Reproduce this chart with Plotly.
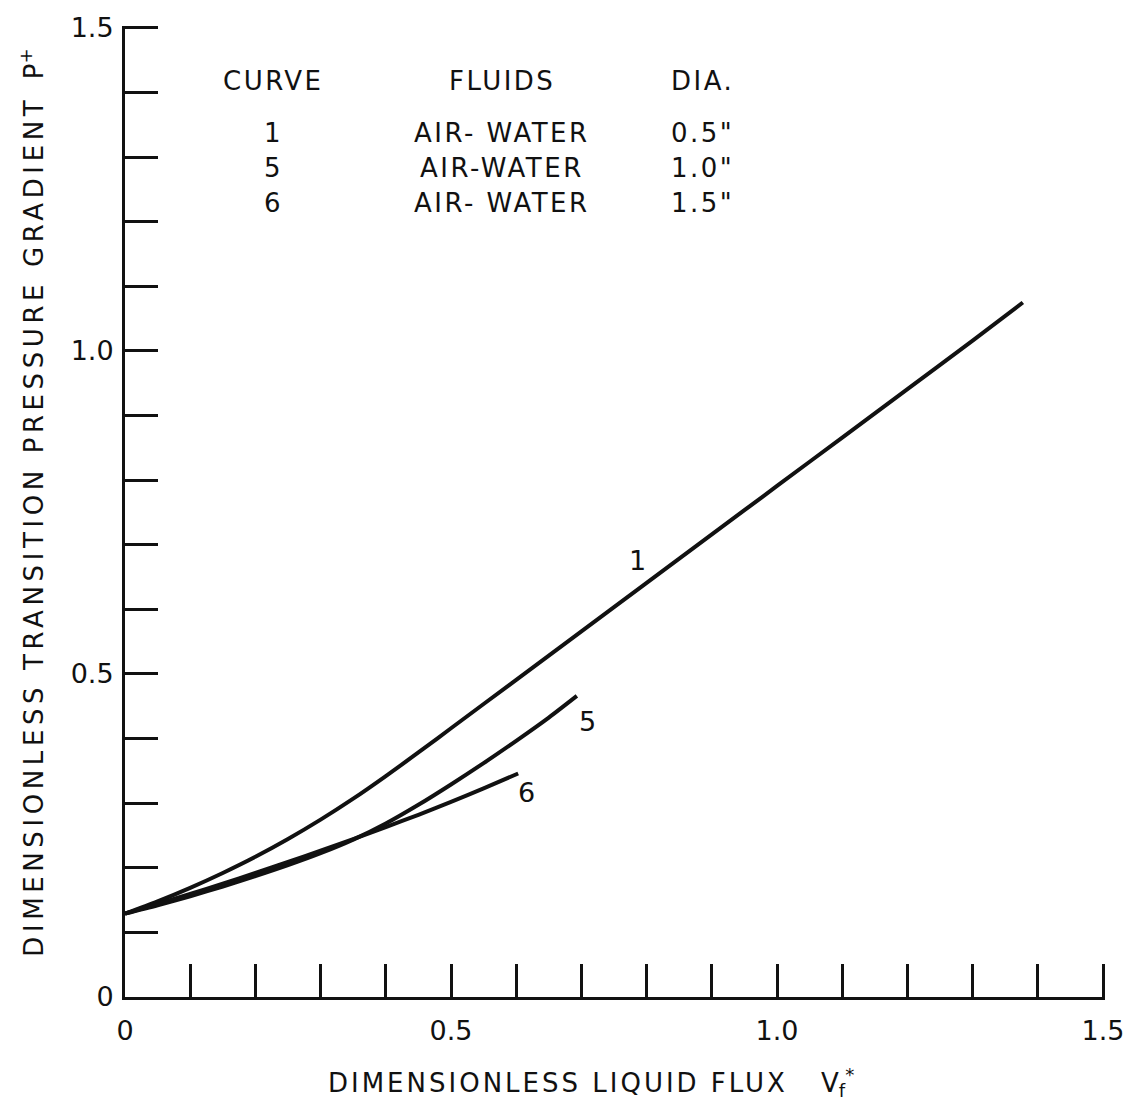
import plotly.graph_objects as go

# ---- data ----
curve1_x = [0, 0.05, 0.1, 0.15, 0.2, 0.25, 0.3, 0.35, 0.4, 0.45, 0.5, 0.6, 0.7, 0.8, 0.9, 1.0, 1.1, 1.2, 1.3, 1.377]
curve1_y = [0.129, 0.148, 0.169, 0.192, 0.217, 0.2445, 0.2745, 0.307, 0.342, 0.3785, 0.416, 0.491, 0.566, 0.641, 0.716, 0.791, 0.866, 0.941, 1.016, 1.075]

curve5_x = [0, 0.05, 0.1, 0.15, 0.2, 0.25, 0.3, 0.35, 0.4, 0.45, 0.5, 0.55, 0.6, 0.65, 0.693]
curve5_y = [0.129, 0.142, 0.156, 0.171, 0.187, 0.204, 0.2225, 0.2435, 0.2685, 0.2975, 0.329, 0.362, 0.3965, 0.4325, 0.466]

curve6_x = [0, 0.05, 0.1, 0.15, 0.2, 0.25, 0.3, 0.35, 0.4, 0.45, 0.5, 0.55, 0.603]
curve6_y = [0.129, 0.144, 0.1595, 0.1755, 0.192, 0.209, 0.2265, 0.2445, 0.263, 0.282, 0.302, 0.323, 0.346]

curve_ids = ["1", "5", "6"]
fluids = ["AIR- WATER", "AIR-WATER", "AIR- WATER"]
diameters = ['0.5"', '1.0"', '1.5"']

tick_vals = [0, 0.5, 1.0, 1.5]
x_tick_text = ["0", "0.5", "1.0", "1.5"]
y_tick_text = ["0", "0.5", "1.0", "1.5"]

FONT = "DejaVu Sans"
BLACK = "#111111"


def spaced(text, px):
    return f'<span style="letter-spacing:{px}px">{text}</span>'


fig = go.Figure()
for xs, ys in [(curve1_x, curve1_y), (curve5_x, curve5_y), (curve6_x, curve6_y)]:
    fig.add_trace(go.Scatter(x=xs, y=ys, mode="lines",
                             line=dict(color=BLACK, width=4, shape="spline", smoothing=0.8),
                             showlegend=False, hoverinfo="skip"))

axis_common = dict(
    showgrid=False, zeroline=False, showline=True, linecolor=BLACK, linewidth=3,
    ticks="inside", ticklen=33, tickwidth=2.5, tickcolor=BLACK,
    tickvals=tick_vals,
    minor=dict(dtick=0.1, tick0=0, ticks="inside", ticklen=33, tickwidth=2.5, tickcolor=BLACK, showgrid=False),
    tickfont=dict(family=FONT, size=27, color=BLACK),
    range=[0, 1.503], fixedrange=True,
)

fig.update_layout(
    width=1137, height=1100,
    margin=dict(l=125, r=31, t=20, b=103),
    paper_bgcolor="white", plot_bgcolor="white",
    xaxis=dict(**axis_common, ticktext=x_tick_text, ticklabelstandoff=8),
    yaxis=dict(**axis_common, ticktext=y_tick_text, ticklabelstandoff=3),
    font=dict(family=FONT, size=26, color=BLACK),
)

anns = []
TFS = 26
TLS = 2.5
table_cols = [0.227, 0.578, 0.885]
header_y = 1.418
row_y = [1.338, 1.283, 1.229]
for x, t in zip(table_cols, ["CURVE", "FLUIDS", "DIA."]):
    anns.append(dict(x=x, y=header_y, xref="x", yref="y", text=spaced(t, TLS), showarrow=False,
                     font=dict(family=FONT, size=TFS, color=BLACK)))
for i in range(3):
    for x, t in zip(table_cols, [curve_ids[i], fluids[i], diameters[i]]):
        anns.append(dict(x=x, y=row_y[i], xref="x", yref="y", text=spaced(t, TLS), showarrow=False,
                         font=dict(family=FONT, size=TFS, color=BLACK)))

# curve labels
for t, x, y in [("1", 0.786, 0.675), ("5", 0.71, 0.427), ("6", 0.616, 0.317)]:
    anns.append(dict(x=x, y=y, xref="x", yref="y", text=t, showarrow=False,
                     font=dict(family=FONT, size=27, color=BLACK)))

# axis titles
anns.append(dict(x=0.476, xref="paper", y=-0.088, yref="paper",
                 text=spaced("DIMENSIONLESS LIQUID FLUX", 3) + "    V<sub>f</sub><sup>*</sup>",
                 xanchor="center", yanchor="middle", showarrow=False,
                 font=dict(family=FONT, size=26, color=BLACK)))
anns.append(dict(x=-0.095, xref="paper", y=0.509, yref="paper",
                 text=spaced("DIMENSIONLESS TRANSITION PRESSURE GRADIENT", 4.6) + "  P<sup>+</sup>",
                 textangle=-90, xanchor="center", yanchor="middle", showarrow=False,
                 font=dict(family=FONT, size=26, color=BLACK)))

fig.update_layout(annotations=anns)
fig.write_html("out.html")
